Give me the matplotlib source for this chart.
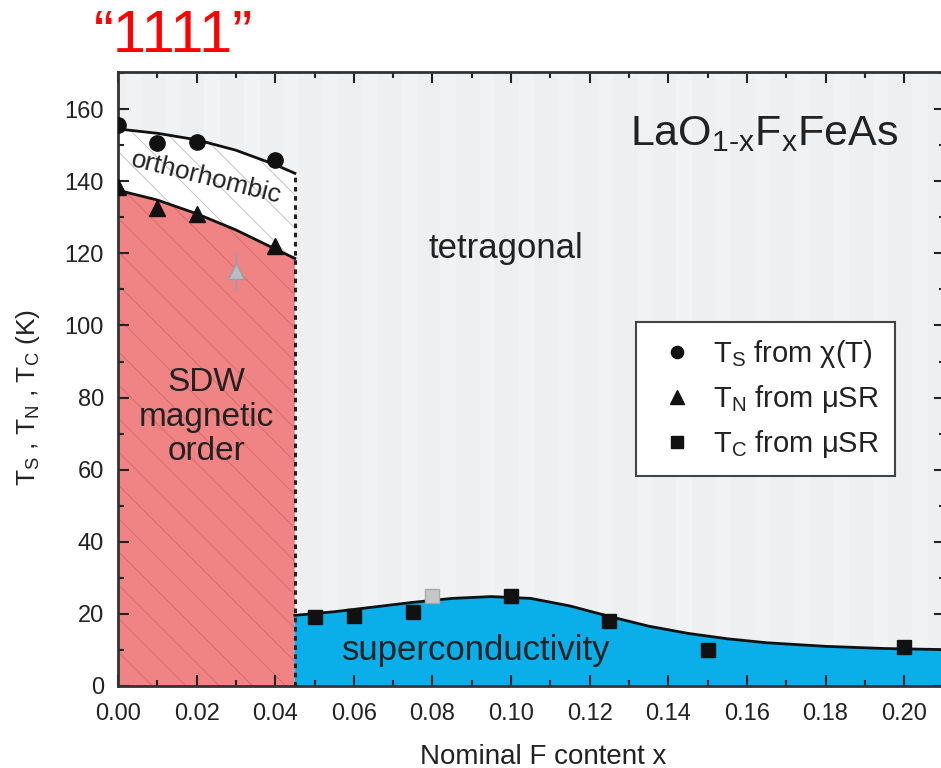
import numpy as np
import matplotlib
matplotlib.use("Agg")
import matplotlib.pyplot as plt

plt.rcParams['font.family'] = ['Liberation Sans', 'DejaVu Sans']
plt.rcParams['mathtext.fontset'] = 'custom'
plt.rcParams['mathtext.rm'] = 'Liberation Sans'
plt.rcParams['mathtext.it'] = 'Liberation Sans:italic'
plt.rcParams['hatch.linewidth'] = 0.7

# ---- data ----
ts_x = [0.00, 0.01, 0.02, 0.04]
ts_y = [155.5, 150.5, 151.0, 146.0]

tn_x = [0.00, 0.01, 0.02, 0.04]
tn_y = [138.5, 132.5, 131.0, 122.0]

tn_gray_x = [0.03]
tn_gray_y = [115.0]
tn_gray_err = [5.5]

tc_x = [0.05, 0.06, 0.075, 0.10, 0.125, 0.15, 0.20]
tc_y = [19.0, 19.5, 20.5, 25.0, 18.0, 10.0, 10.8]

tc_gray_x = [0.08]
tc_gray_y = [25.0]

# phase boundary lines (guides to the eye)
ts_line_x = [0.000, 0.010, 0.020, 0.030, 0.040, 0.045]
ts_line_y = [154.5, 153.3, 151.5, 148.6, 144.6, 142.2]

tn_line_x = [0.000, 0.010, 0.020, 0.030, 0.040, 0.045]
tn_line_y = [137.5, 134.8, 131.0, 126.5, 121.2, 118.6]

tc_line_x = [0.045, 0.055, 0.065, 0.075, 0.085, 0.095, 0.105, 0.115, 0.125,
             0.135, 0.145, 0.155, 0.165, 0.180, 0.195, 0.215]
tc_line_y = [19.6, 20.6, 21.9, 23.2, 24.3, 24.8, 24.3, 22.2, 19.3,
             16.6, 14.6, 13.1, 12.0, 11.0, 10.4, 10.0]

x_border = 0.045

fig = plt.figure(figsize=(9.41, 7.68), dpi=100)
ax = fig.add_axes([118 / 941, 82 / 768, 827 / 941, 614 / 768])
ax.set_xlim(0, 0.2104)
ax.set_ylim(0, 170.3)
ax.set_facecolor('#eeeff1')

# faint vertical stripes in the background
for xs in np.arange(0.0, 0.22, 0.01):
    ax.axvspan(xs + 0.002, xs + 0.006, color='white', alpha=0.2, lw=0, zorder=0)

# phase regions
ax.fill_between(tn_line_x, 0, tn_line_y, facecolor='#f08383', edgecolor='#d76a6a',
                hatch='\\', linewidth=0, zorder=1)
ax.fill_between(ts_line_x, tn_line_y, ts_line_y, facecolor='white', edgecolor='#c4c4c4',
                hatch='\\', linewidth=0, zorder=1)
ax.fill_between(tc_line_x, 0, tc_line_y, facecolor='#0aaee8', linewidth=0, zorder=1)

ax.plot(ts_line_x, ts_line_y, color='#111111', lw=2, zorder=3)
ax.plot(tn_line_x, tn_line_y, color='#111111', lw=2, zorder=3)
ax.plot(tc_line_x, tc_line_y, color='#111111', lw=2, zorder=3)
ax.plot([x_border, x_border], [0, ts_line_y[-1]], color='#222222', lw=2.2,
        linestyle=(0, (1.5, 1.5)), zorder=3)

# data points
ax.plot(ts_x, ts_y, 'o', color='#111111', ms=11, zorder=5, label=r'T$_\mathrm{S}$ from χ(T)')
ax.plot(tn_x, tn_y, '^', color='#111111', ms=12, zorder=5, label=r'T$_\mathrm{N}$ from μSR')
ax.plot(tc_x, tc_y, 's', color='#111111', ms=10, zorder=5, label=r'T$_\mathrm{C}$ from μSR')
ax.errorbar(tn_gray_x, tn_gray_y, yerr=tn_gray_err, fmt='^', ms=11, mfc='#b8bcc4',
            mec='#9a9ea6', ecolor='#9a9ea6', elinewidth=1, zorder=4)
ax.plot(tc_gray_x, tc_gray_y, 's', ms=10, mfc='#c4c6ca', mec='#a8aaae', zorder=5)

# ticks and spines
ax.set_xticks(np.arange(0, 0.201, 0.02))
ax.set_xticks(np.arange(0, 0.211, 0.01), minor=True)
ax.set_yticks(np.arange(0, 161, 20))
ax.set_yticks(np.arange(0, 171, 10), minor=True)
ax.xaxis.set_major_formatter(matplotlib.ticker.FormatStrFormatter('%.2f'))
ax.tick_params(which='both', direction='in', top=True, right=True, width=1.5,
               color='#222222', labelcolor='#222222', labelsize=17)
ax.tick_params(which='major', length=8)
ax.tick_params(axis='x', which='major', pad=12)
ax.tick_params(axis='y', which='major', pad=10)
ax.tick_params(which='minor', length=4)
for sp in ax.spines.values():
    sp.set_linewidth(2)
    sp.set_color('#333333')

ax.set_xlabel('Nominal F content x', fontsize=20, color='#222222')
ax.xaxis.set_label_coords(0.514, -0.094)
ax.set_ylabel(r'T$_\mathrm{S}$ , T$_\mathrm{N}$ , T$_\mathrm{C}$ (K)', fontsize=19, color='#222222')
ax.yaxis.set_label_coords(-0.092, 0.47)

# labels inside the diagram
txt = '#222222'
ax.text(0.1644, 150, r'LaO$_\mathrm{1\text{-}x}$F$_\mathrm{x}$FeAs', fontsize=31, color=txt,
        ha='center', va='baseline')
ax.text(0.0987, 118.7, 'tetragonal', fontsize=25, color=txt, ha='center', va='baseline')
ax.text(0.0224, 74.5, 'SDW\nmagnetic\norder', fontsize=24, color=txt, ha='center', va='center',
        linespacing=1.15)
ax.text(0.0911, 7.2, 'superconductivity', fontsize=25, color=txt, ha='center', va='baseline')
ax.text(0.0224, 141, 'orthorhombic', fontsize=19, color=txt, ha='center', va='center',
        rotation=-14)

leg = ax.legend(loc='upper left', bbox_to_anchor=(0.626, 0.593), borderaxespad=0,
                fontsize=21, frameon=True, fancybox=False, framealpha=1,
                edgecolor='#444444', handlelength=1.7, handletextpad=0.4,
                labelspacing=0.45, borderpad=0.55, markerscale=0.8)
leg.get_frame().set_linewidth(1.5)
for t in leg.get_texts():
    t.set_color('#222222')

fig.text(173 / 941, 1 - 36 / 768, '\u201c1111\u201d', color='#ff0000', fontsize=43,
         ha='center', va='center')

fig.savefig('out.png', dpi=100)
